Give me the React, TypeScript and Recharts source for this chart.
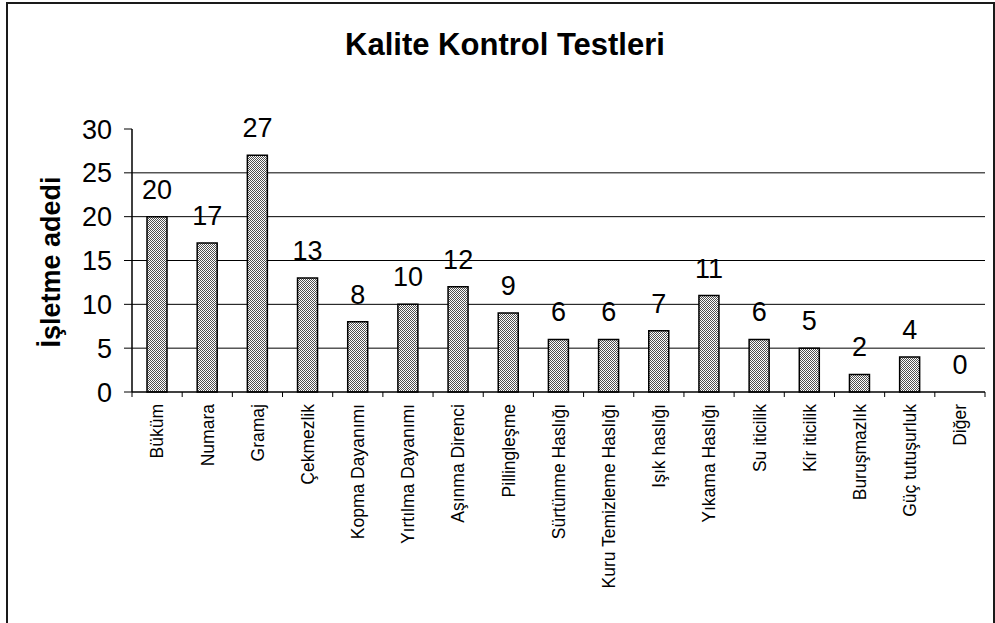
import React from 'react'
import { ComposedChart, Bar, Line, XAxis, YAxis, CartesianGrid, LabelList, Label } from 'recharts'

const categories = [
  'Büküm', 'Numara', 'Gramaj', 'Çekmezlik', 'Kopma Dayanımı', 'Yırtılma Dayanımı',
  'Aşınma Direnci', 'Pillingleşme', 'Sürtünme Haslığı', 'Kuru Temizleme Haslığı',
  'Işık haslığı', 'Yıkama Haslığı', 'Su iticilik', 'Kir iticilik', 'Buruşmazlık',
  'Güç tutuşurluk', 'Diğer',
]
const counts = [20, 17, 27, 13, 8, 10, 12, 9, 6, 6, 7, 11, 6, 5, 2, 4, 0]
const yTicks = [0, 5, 10, 15, 20, 25, 30]

const data = categories.map((name, i) => ({ name, value: counts[i] }))

const FONT = '"Liberation Sans", Arial, sans-serif'

function XTick(props: any) {
  const { x, y, payload, index } = props
  const half = payload && payload.offset ? payload.offset : 25
  const last = index === categories.length - 1
  return (
    <g>
      <line x1={x - half} x2={x - half} y1={y - 8} y2={y - 3} stroke="#000" />
      {last && <line x1={x + half} x2={x + half} y1={y - 8} y2={y - 3} stroke="#000" />}
      <text
        x={x}
        y={y + 4}
        transform={`rotate(-90, ${x}, ${y + 4})`}
        textAnchor="end"
        dy="0.36em"
        fontSize={17.5}
        fontFamily={FONT}
        fill="#000"
      >
        {payload.value}
      </text>
    </g>
  )
}

export default function App() {
  return (
    <div style={{ position: 'fixed', left: 0, top: 0, width: 995, height: 623, background: '#fff', overflow: 'hidden' }}>
      <div style={{ position: 'absolute', left: 6, top: 2, width: 985, height: 700, border: '2px solid #1a1a1a' }} />
      <div style={{ position: 'absolute', left: 0, top: 29, width: 1010, textAlign: 'center', fontFamily: FONT, fontWeight: 'bold', fontSize: 31, lineHeight: '31px', color: '#000' }}>
        Kalite Kontrol Testleri
      </div>
      <div style={{ position: 'absolute', left: 0, top: 0 }}>
        <ComposedChart width={995} height={623} data={data} margin={{ top: 129, right: 10, bottom: 0, left: 0 }}>
          <defs>
            <pattern id="chk" width="2" height="2" patternUnits="userSpaceOnUse">
              <rect width="2" height="2" fill="#fff" />
              <rect width="1" height="1" fill="#505050" />
              <rect x="1" y="1" width="1" height="1" fill="#505050" />
            </pattern>
          </defs>
          <CartesianGrid vertical={false} stroke="#000" strokeOpacity={1} horizontalValues={[5, 10, 15, 20, 25]} />
          <XAxis
            dataKey="name"
            interval={0}
            axisLine={{ stroke: '#000', strokeWidth: 1.5 }}
            tickLine={false}
            tick={<XTick />}
            height={231}
          />
          <XAxis
            xAxisId="top"
            dataKey="name"
            orientation="top"
            height={0}
            tick={false}
            tickLine={false}
            axisLine={{ stroke: '#8c8c8c', strokeWidth: 2 }}
          />
          <YAxis
            domain={[0, 30]}
            ticks={yTicks}
            interval={0}
            width={132}
            tickSize={8}
            tickMargin={12}
            axisLine={{ stroke: '#000', strokeWidth: 1.5 }}
            tickLine={{ stroke: '#000' }}
            tick={{ fontSize: 27, fontFamily: FONT, fill: '#000' }}
          >
            <Label
              content={() => (
                <text
                  x={60}
                  y={262}
                  transform="rotate(-90, 60, 262)"
                  textAnchor="middle"
                  fontSize={27}
                  fontWeight="bold"
                  fontFamily={FONT}
                  fill="#000"
                >
                  İşletme adedi
                </text>
              )}
            />
          </YAxis>
          <YAxis
            yAxisId="r"
            orientation="right"
            domain={[0, 30]}
            ticks={yTicks}
            width={0}
            tick={false}
            tickLine={false}
            axisLine={{ stroke: '#8c8c8c', strokeWidth: 2 }}
          />
          <Bar dataKey="value" barSize={20} fill="url(#chk)" stroke="#000" strokeWidth={1.5} isAnimationActive={false} />
          <Line xAxisId="top" yAxisId="r" dataKey="value" stroke="none" dot={false} activeDot={false} isAnimationActive={false}>
            <LabelList dataKey="value" position="top" offset={18} fontSize={27} fontFamily={FONT} fill="#000" />
          </Line>
        </ComposedChart>
      </div>
    </div>
  )
}
